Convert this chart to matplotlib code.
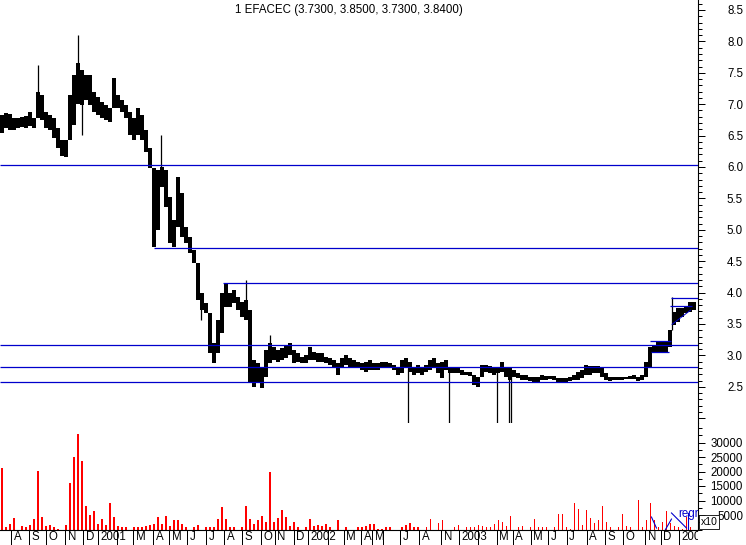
import numpy as np
import matplotlib
matplotlib.use('Agg')
import matplotlib.pyplot as plt
from matplotlib.ticker import FixedLocator, MultipleLocator, FuncFormatter, NullFormatter
from matplotlib.transforms import Bbox, blended_transform_factory, ScaledTranslation

plt.rcParams['font.family'] = ['Liberation Sans', 'DejaVu Sans']

title = "1 EFACEC (3.7300, 3.8500, 3.7300, 3.8400)"

# ---- price band (period highs / lows, Jul 2000 .. Jan 2004) ----
high = [6.83, 6.86, 6.84, 6.78, 6.78, 6.80, 6.81, 6.88, 6.78, 7.19,
        7.15, 6.88, 6.83, 6.78, 6.62, 6.43, 6.43, 7.15, 7.47, 7.66,
        7.54, 7.47, 7.47, 7.19, 7.12, 7.04, 6.99, 6.94, 7.42, 7.15,
        7.07, 6.99, 6.88, 6.78, 6.94, 6.83, 6.59, 6.30, 5.98, 5.95,
        6.00, 5.95, 5.52, 5.16, 5.84, 5.59, 5.05, 4.89, 4.68, 4.47,
        4.00, 3.84, 3.68, 3.20, 3.57, 4.00, 4.15, 4.00, 4.04, 3.93,
        3.85, 3.88, 3.72, 2.93, 2.88, 2.82, 3.09, 3.20, 3.13, 3.09,
        3.12, 3.17, 3.20, 3.09, 3.04, 2.97, 3.01, 3.13, 3.06, 3.04,
        3.04, 2.97, 2.96, 2.93, 2.88, 2.96, 3.01, 2.96, 2.93, 2.90,
        2.88, 2.90, 2.93, 2.88, 2.88, 2.90, 2.90, 2.88, 2.85, 2.82,
        2.93, 2.96, 2.90, 2.82, 2.85, 2.82, 2.85, 2.93, 2.96, 2.88,
        2.90, 2.93, 2.82, 2.80, 2.80, 2.77, 2.74, 2.74, 2.69, 2.66,
        2.85, 2.85, 2.83, 2.80, 2.80, 2.90, 2.80, 2.80, 2.77, 2.72,
        2.69, 2.69, 2.66, 2.66, 2.66, 2.69, 2.67, 2.67, 2.67, 2.64,
        2.64, 2.64, 2.66, 2.69, 2.74, 2.77, 2.85, 2.83, 2.83, 2.83,
        2.80, 2.72, 2.66, 2.66, 2.66, 2.66, 2.66, 2.67, 2.69, 2.66,
        2.69, 2.90, 3.13, 3.17, 3.21, 3.21, 3.21, 3.40, 3.69, 3.76,
        3.76, 3.77, 3.85, 3.85]
low = [6.54, 6.62, 6.59, 6.59, 6.62, 6.64, 6.62, 6.65, 6.62, 6.78,
       6.75, 6.62, 6.59, 6.46, 6.30, 6.18, 6.16, 6.43, 6.67, 7.00,
       6.99, 7.07, 6.99, 6.88, 6.83, 6.78, 6.75, 6.72, 6.94, 6.94,
       6.88, 6.78, 6.51, 6.43, 6.51, 6.43, 6.24, 5.98, 4.73, 5.00,
       5.68, 5.36, 4.79, 4.73, 5.05, 4.89, 4.79, 4.63, 4.47, 3.88,
       3.72, 3.68, 3.04, 2.88, 3.04, 3.36, 3.77, 3.77, 3.84, 3.72,
       3.61, 3.57, 2.56, 2.50, 2.56, 2.48, 2.66, 2.88, 2.93, 2.90,
       2.93, 2.96, 3.01, 2.88, 2.90, 2.88, 2.88, 2.93, 2.93, 2.90,
       2.90, 2.88, 2.85, 2.80, 2.69, 2.80, 2.85, 2.82, 2.82, 2.80,
       2.77, 2.74, 2.77, 2.77, 2.77, 2.82, 2.80, 2.80, 2.77, 2.69,
       2.72, 2.80, 2.74, 2.69, 2.72, 2.69, 2.74, 2.77, 2.80, 2.72,
       2.64, 2.77, 2.72, 2.72, 2.72, 2.69, 2.69, 2.67, 2.53, 2.50,
       2.66, 2.74, 2.72, 2.69, 2.72, 2.74, 2.66, 2.61, 2.66, 2.64,
       2.61, 2.61, 2.59, 2.58, 2.58, 2.61, 2.61, 2.62, 2.61, 2.58,
       2.58, 2.58, 2.59, 2.61, 2.61, 2.64, 2.69, 2.69, 2.72, 2.72,
       2.66, 2.61, 2.59, 2.61, 2.61, 2.61, 2.62, 2.62, 2.62, 2.59,
       2.61, 2.66, 2.82, 3.06, 3.06, 3.04, 3.06, 3.13, 3.48, 3.53,
       3.61, 3.68, 3.69, 3.73]

# single-day outliers (period index, low, high)
spike_idx = [9.0, 19.0, 20.0, 39.75, 49.75, 61.0, 67.0, 101.5, 111.75, 123.75, 126.75, 127.25, 167.5]
spike_low = [6.90, 7.50, 6.51, 5.90, 3.57, 3.70, 3.00, 1.50, 1.50, 1.50, 1.50, 1.50, 3.40]
spike_high = [7.62, 8.10, 7.00, 6.51, 3.90, 4.20, 3.33, 2.80, 2.75, 2.75, 2.70, 2.70, 3.93]

# ---- volume ----
volume = [21300, 1000, 2000, 3800, 0, 1200, 1000, 1500, 3600, 20300,
          4400, 1200, 1500, 800, 300, 0, 1500, 16100, 25100, 32900,
          23700, 8000, 5000, 6400, 2000, 3600, 1500, 9000, 4400, 1200,
          700, 900, 0, 900, 700, 900, 1100, 1500, 2000, 4400,
          1800, 4600, 1100, 3200, 3400, 1800, 700, 0, 700, 1500,
          0, 700, 700, 700, 3600, 7600, 3600, 700, 700, 0,
          700, 8000, 3600, 2000, 3200, 4600, 2600, 19900, 2600, 3800,
          6700, 4400, 1100, 2600, 900, 0, 700, 3600, 1100, 1500,
          1100, 1800, 900, 0, 3200, 0, 700, 0, 0, 700,
          700, 1100, 1800, 1800, 300, 300, 900, 700, 0, 0,
          900, 1500, 2300, 700, 700, 0, 700, 3600, 0, 2100,
          3200, 0, 0, 900, 1500, 0, 700, 700, 700, 1500,
          1100, 700, 700, 1800, 3200, 2600, 1100, 4600, 0, 700,
          1100, 0, 900, 3600, 700, 700, 900, 0, 900, 5300,
          5300, 700, 300, 9300, 7000, 1500, 6700, 3800, 2100, 3200,
          8000, 2600, 700, 0, 700, 5300, 1100, 900, 0, 10100,
          900, 3200, 9300, 3200, 700, 2600, 6300, 2100, 1100, 700,
          300, 4400, 700, 0]

# ---- horizontal support / resistance lines (price, from, to) ----
level_price = [6.03, 4.705, 4.148, 3.161, 2.81, 2.571, 3.909, 3.78, 3.23, 3.05]
level_from = [-0.5, 38.0, 55.25, -0.5, -0.5, -0.5, 167.25, 167.0, 162.0, 162.25]
level_to = [173.75, 173.75, 173.75, 173.75, 173.75, 173.75, 173.75, 172.5, 167.25, 166.75]
trend_idx = [167.4, 172.0]
trend_price = [3.495, 3.72]

# volume regression marks (period index, volume)
regr_segments = [([162.25, 163.5], [4300, 500]),
                 ([165.75, 167.25], [0, 3600]),
                 ([167.25, 171.0], [5700, 500]),
                 ([171.5, 171.5], [0, 5700])]

# ---- time axis ----
month_pos = [2.25, 6.83, 10.93, 15.75, 20.33, 24.08, 28.68, 32.83, 37.83, 41.75,
             46.33, 50.93, 55.5, 60.08, 64.68, 68.08, 72.83, 76.43, 81.43, 85.33,
             89.75, 92.5, 95.25, 99.43, 104.18, 109.68, 114.18, 118.83, 123.58, 127.58,
             132.08, 136.5, 141.08, 146.08, 150.68, 155.25, 160.68, 164.58, 169.18]
month_lab = ['A', 'S', 'O', 'N', 'D', '2001', '', 'M', 'A', 'M',
             'J', 'J', 'A', 'S', 'O', 'N', 'D', '2002', '', 'M',
             'A', 'M', '', 'J', 'A', 'N', '2003', '', 'M', 'A',
             'M', 'J', 'J', 'A', 'S', 'O', 'N', 'D', '2004']

price_major = [2.0, 2.5, 3.0, 3.5, 4.0, 4.5, 5.0, 5.5, 6.0, 6.5, 7.0, 7.5, 8.0, 8.5]
vol_major = [5000, 10000, 15000, 20000, 25000, 30000]

# ================= drawing =================
W, H = 746, 545
DPI = 100
fig = plt.figure(figsize=(W / DPI, H / DPI), dpi=DPI)
fig.patch.set_facecolor('white')

x_right = 697.5
p_bot = 423.0
v_bot = 529.5
ax = fig.add_axes([0, (H - p_bot) / H, x_right / W, p_bot / H])
axv = fig.add_axes([0, (H - v_bot) / H, x_right / W, (v_bot - p_bot) / H])

N = len(high)
xlim = (-0.5, 173.75)
blue = '#0000CC'
fs = 8.3

# price band as step area
edges = np.arange(N + 1) - 0.5
xs = np.repeat(edges, 2)[1:-1]
hs = np.repeat(np.array(high), 2)
ls = np.repeat(np.array(low), 2)
ax.fill_between(xs, ls, hs, color='black', lw=0)
ax.vlines(spike_idx, spike_low, spike_high, colors='black', lw=0.9)
ax.hlines(level_price, level_from, level_to, colors=blue, lw=0.9, zorder=3)
ax.plot(trend_idx, trend_price, color=blue, lw=0.7, zorder=3)

ax.set_xlim(*xlim)
ax.set_ylim(8.5 - (p_bot - 10) / 62.8, 8.5 + 10 / 62.8)
for s in ['left', 'top', 'bottom']:
    ax.spines[s].set_visible(False)
ax.spines['right'].set_linewidth(0.8)
ax.yaxis.tick_right()
ax.yaxis.set_major_locator(FixedLocator(price_major))
ax.yaxis.set_minor_locator(MultipleLocator(0.1))
ax.yaxis.set_major_formatter(FuncFormatter(lambda v, p: '' if v < 2.2 else f'{v:.1f}'))
ax.yaxis.set_minor_formatter(NullFormatter())
pad_pt = (743 - x_right - 7) * 72 / DPI
ax.tick_params(axis='y', which='major', direction='out', length=7 * 0.72, width=0.72,
               labelsize=fs, pad=pad_pt, right=True, left=False, labelright=True, labelleft=False)
ax.tick_params(axis='y', which='minor', direction='out', length=4 * 0.72, width=0.72,
               right=True, left=False)
ax.tick_params(axis='x', bottom=False, labelbottom=False)
for t in ax.yaxis.get_major_ticks():
    t.label2.set_horizontalalignment('right')

fig.text((x_right / 2) / W, 1 - 10 / H, title, ha='center', va='center', fontsize=fs)

# volume
xv = np.arange(N)
axv.bar(xv, volume, width=0.4, color='#FF0000', lw=0)
for sx, sy in regr_segments:
    axv.plot(sx, sy, color=blue, lw=0.8)
axv.set_xlim(*xlim)
axv.set_ylim(0, (v_bot - p_bot) / 14.5 * 5000)
for s in ['left', 'top']:
    axv.spines[s].set_visible(False)
axv.spines['right'].set_linewidth(0.8)
axv.spines['bottom'].set_linewidth(0.8)
axv.yaxis.tick_right()
axv.yaxis.set_major_locator(FixedLocator(vol_major))
axv.yaxis.set_minor_locator(MultipleLocator(2500))
axv.yaxis.set_major_formatter(FuncFormatter(lambda v, p: f'{int(v)}'))
axv.yaxis.set_minor_formatter(NullFormatter())
axv.tick_params(axis='y', which='major', direction='out', length=7 * 0.72, width=0.72,
                labelsize=fs, pad=pad_pt, right=True, left=False, labelright=True, labelleft=False)
axv.tick_params(axis='y', which='minor', direction='out', length=4 * 0.72, width=0.72,
                right=True, left=False)
for t in axv.yaxis.get_major_ticks():
    t.label2.set_horizontalalignment('right')

axv.xaxis.set_major_locator(FixedLocator(month_pos))
axv.tick_params(axis='x', which='major', direction='out', length=16 * 0.72, width=0.72,
                labelbottom=False)
clip = Bbox.from_extents(0, 0, x_right, H)
tr = blended_transform_factory(axv.transData, fig.transFigure) + \
    ScaledTranslation(2.5 / DPI, 0, fig.dpi_scale_trans)
for p, lab in zip(month_pos, month_lab):
    t = axv.text(p, 1 - 537 / H, lab, transform=tr, ha='left', va='center',
                 fontsize=fs, clip_on=True)
    t.set_clip_box(clip)

fig.text(701 / W, 1 - 522 / H, 'x10', ha='left', va='center', fontsize=7.5,
         bbox=dict(boxstyle='square,pad=0.15', fc='white', ec='black', lw=0.6))
t = axv.text(169.0, 5200, 'regr', color=blue, fontsize=fs, ha='left', va='center', clip_on=True)
t.set_clip_box(clip)

fig.savefig('out.png', dpi=DPI)
